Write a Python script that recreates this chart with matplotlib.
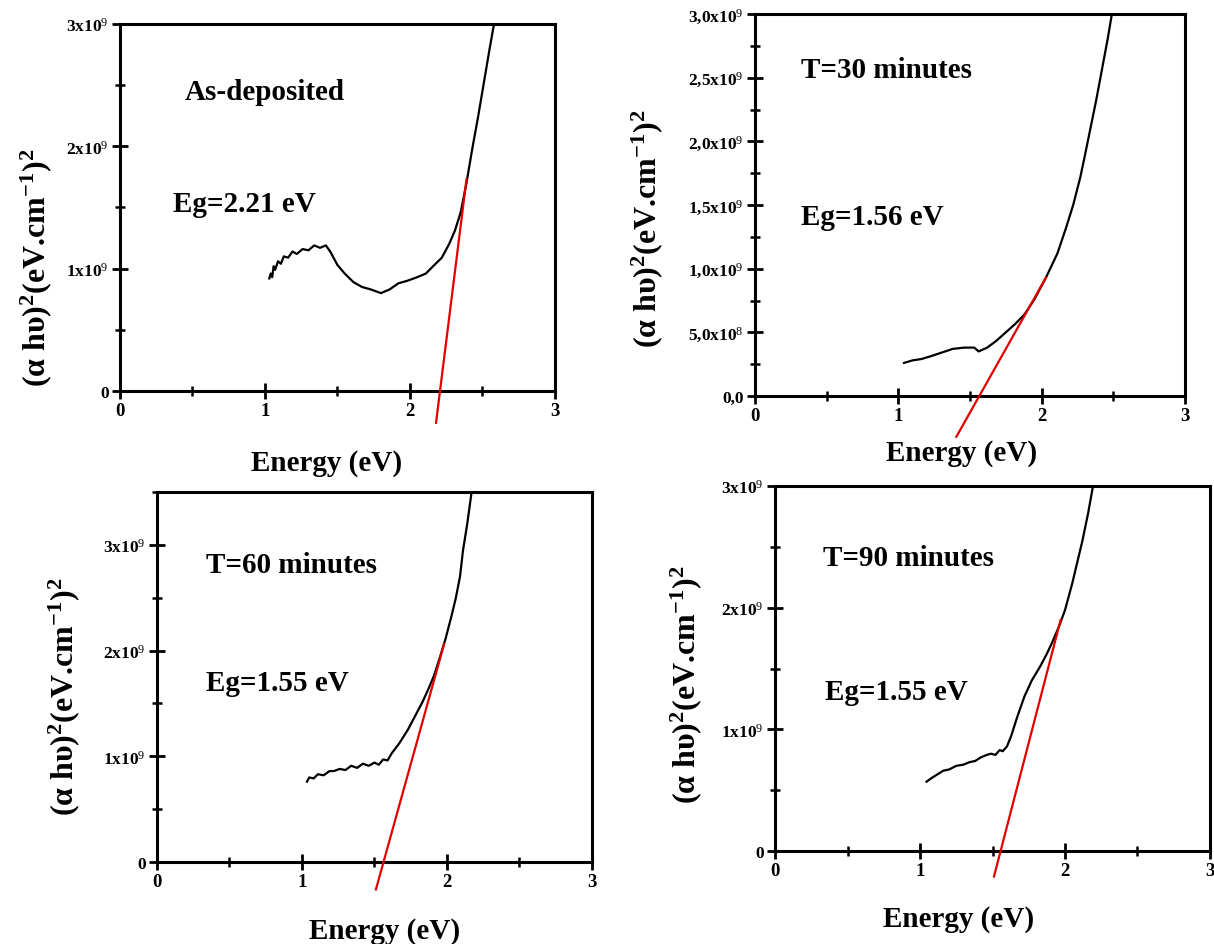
"""
Tauc plots (alpha*h*nu)^2 vs photon energy for four annealing times,
with the linear extrapolation giving the optical band gap.
"""

import matplotlib
matplotlib.use("Agg")
import matplotlib.pyplot as plt
from matplotlib.ticker import MultipleLocator


plt.rcParams["font.family"] = ["Liberation Serif", "DejaVu Serif"]
plt.rcParams["mathtext.fontset"] = "custom"
plt.rcParams["mathtext.rm"] = "Liberation Serif"
plt.rcParams["mathtext.bf"] = "Liberation Serif:bold"
plt.rcParams["mathtext.it"] = "Liberation Serif:italic"

# --- As-deposited ---
energy_asdep = [1.03, 1.04, 1.05, 1.06, 1.07, 1.09, 1.11, 1.13, 1.16, 1.19, 1.22,
                1.26, 1.30, 1.34, 1.38, 1.42, 1.45, 1.50, 1.55, 1.61, 1.67,
                1.73, 1.80, 1.86, 1.92, 1.98, 2.05, 2.11, 2.16, 2.22, 2.27,
                2.31, 2.35, 2.39, 2.43, 2.47, 2.51, 2.55, 2.58]
absorb_asdep = [0.92, 0.96, 0.93, 1.02, 0.99, 1.06, 1.04, 1.10, 1.09, 1.14, 1.12,
                1.16, 1.15, 1.19, 1.17, 1.19, 1.14, 1.03, 0.96, 0.89, 0.85,
                0.83, 0.80, 0.83, 0.88, 0.90, 0.93, 0.96, 1.02, 1.09, 1.20,
                1.31, 1.46, 1.70, 1.98, 2.24, 2.52, 2.80, 3.00]
fit_asdep_x = [2.18, 2.39]
fit_asdep_y = [-0.26, 1.73]

# --- T = 30 minutes ---
energy_30 = [1.04, 1.10, 1.16, 1.22, 1.30, 1.38, 1.46, 1.53, 1.56, 1.58, 1.62,
             1.68, 1.74, 1.81, 1.88, 1.95, 2.03, 2.11, 2.17, 2.22, 2.27,
             2.30, 2.34, 2.38, 2.43, 2.46, 2.49]
absorb_30 = [0.26, 0.28, 0.29, 0.31, 0.34, 0.37, 0.38, 0.38, 0.35, 0.36, 0.38,
             0.43, 0.49, 0.56, 0.64, 0.76, 0.93, 1.12, 1.32, 1.50, 1.72,
             1.88, 2.10, 2.32, 2.62, 2.80, 3.00]
fit_30_x = [1.405, 2.03]
fit_30_y = [-0.32, 0.93]

# --- T = 60 minutes ---
energy_60 = [1.035, 1.05, 1.08, 1.11, 1.15, 1.19, 1.22, 1.26, 1.30, 1.34, 1.38,
             1.42, 1.46, 1.50, 1.53, 1.56, 1.59, 1.62, 1.67, 1.73, 1.78,
             1.83, 1.87, 1.91, 1.95, 1.99, 2.03, 2.06, 2.09, 2.11, 2.14, 2.17]
absorb_60 = [0.76, 0.80, 0.79, 0.83, 0.82, 0.86, 0.86, 0.88, 0.87, 0.91, 0.89,
             0.93, 0.91, 0.94, 0.92, 0.97, 0.96, 1.03, 1.12, 1.25, 1.38,
             1.51, 1.63, 1.76, 1.93, 2.11, 2.32, 2.49, 2.70, 2.94, 3.20, 3.50]
fit_60_x = [1.51, 1.98]
fit_60_y = [-0.26, 2.06]

# --- T = 90 minutes ---
energy_90 = [1.045, 1.08, 1.12, 1.16, 1.20, 1.25, 1.30, 1.34, 1.38, 1.42, 1.46,
             1.49, 1.52, 1.55, 1.57, 1.60, 1.63, 1.67, 1.72, 1.77, 1.83,
             1.87, 1.91, 1.96, 2.00, 2.05, 2.09, 2.12, 2.16, 2.19]
absorb_90 = [0.57, 0.60, 0.63, 0.66, 0.67, 0.70, 0.71, 0.73, 0.74, 0.77, 0.79,
             0.80, 0.79, 0.83, 0.82, 0.86, 0.95, 1.10, 1.27, 1.40, 1.52,
             1.61, 1.71, 1.85, 1.98, 2.20, 2.40, 2.55, 2.78, 2.98]
fit_90_x = [1.51, 1.97]
fit_90_y = [-0.21, 1.90]

TICKS_X = [0, 1, 2, 3]
TICKS_Y_INT = [0, 1, 2, 3]
TICKLABELS_Y_INT = ["0", r"1x10$^9$", r"2x10$^9$", r"3x10$^9$"]
TICKS_Y_HALF = [0, 0.5, 1.0, 1.5, 2.0, 2.5, 3.0]
TICKLABELS_Y_HALF = ["0,0", r"5,0x10$^8$", r"1,0x10$^9$", r"1,5x10$^9$",
                     r"2,0x10$^9$", r"2,5x10$^9$", r"3,0x10$^9$"]

YLABEL = r"(α hυ)$^\mathbf{2}$(eV.cm$^{\mathbf{-1}}$)$^\mathbf{2}$"
XLABEL = "Energy (eV)"
TEXT_SIZE = 21


def draw_panel(rect, energy, absorb, fit_x, fit_y, y_max, y_ticks, y_labels,
               y_minor, title, title_xy, gap, gap_xy, xlabel_xy, ylabel_xy):
    ax = fig.add_axes(rect)
    ax.plot(energy, absorb, color="black", lw=1.6)
    # extrapolated linear fit, allowed to run below the x axis
    ax.plot(fit_x, fit_y, color="#e00000", lw=1.6, clip_on=False, zorder=3)

    ax.set_xlim(0, 3)
    ax.set_ylim(0, y_max)
    ax.set_xticks(TICKS_X, [str(t) for t in TICKS_X])
    ax.set_yticks(y_ticks, y_labels)
    ax.xaxis.set_minor_locator(MultipleLocator(0.5))
    ax.yaxis.set_minor_locator(MultipleLocator(y_minor))

    for spine in ax.spines.values():
        spine.set_linewidth(2.2)
    ax.tick_params(which="major", direction="inout", length=12, width=2,
                   pad=2)
    ax.tick_params(which="minor", direction="inout", length=7, width=1.8)
    ax.tick_params(axis="x", labelsize=13.5)
    ax.tick_params(axis="y", labelsize=12.5)
    ax.tick_params(top=False, right=False, which="both")
    for lbl in ax.get_xticklabels() + ax.get_yticklabels():
        lbl.set_fontweight("bold")

    ax.text(*title_xy, title, transform=ax.transAxes, ha="center",
            va="center", fontsize=TEXT_SIZE, fontweight="bold")
    ax.text(*gap_xy, gap, transform=ax.transAxes, ha="center",
            va="center", fontsize=TEXT_SIZE, fontweight="bold")

    ax.set_xlabel(XLABEL, fontsize=TEXT_SIZE, fontweight="bold")
    ax.xaxis.set_label_coords(*xlabel_xy)
    ax.set_ylabel(YLABEL, fontsize=23, fontweight="bold")
    ax.yaxis.set_label_coords(*ylabel_xy)
    return ax


fig = plt.figure(figsize=(12.14, 9.45), dpi=100)

draw_panel([0.0988, 0.5852, 0.3583, 0.3884], energy_asdep, absorb_asdep,
           fit_asdep_x, fit_asdep_y, 3.0, TICKS_Y_INT, TICKLABELS_Y_INT, 0.5,
           "As-deposited", (0.333, 0.817), "Eg=2.21 eV", (0.287, 0.510),
           (0.474, -0.158), (-0.152, 0.340))

draw_panel([0.6219, 0.5799, 0.3542, 0.4042], energy_30, absorb_30,
           fit_30_x, fit_30_y, 3.0, TICKS_Y_HALF, TICKLABELS_Y_HALF, 0.25,
           "T=30 minutes", (0.305, 0.856), "Eg=1.56 eV", (0.272, 0.471),
           (0.481, -0.113), (-0.210, 0.442))

draw_panel([0.1293, 0.0868, 0.3583, 0.3915], energy_60, absorb_60,
           fit_60_x, fit_60_y, 3.5, TICKS_Y_INT, TICKLABELS_Y_INT, 0.5,
           "T=60 minutes", (0.310, 0.805), "Eg=1.55 eV", (0.278, 0.486),
           (0.524, -0.149), (-0.172, 0.449))

draw_panel([0.6384, 0.0984, 0.3583, 0.3862], energy_90, absorb_90,
           fit_90_x, fit_90_y, 3.0, TICKS_Y_INT, TICKLABELS_Y_INT, 0.5,
           "T=90 minutes", (0.306, 0.805), "Eg=1.55 eV", (0.280, 0.438),
           (0.421, -0.148), (-0.163, 0.458))

fig.savefig("out.png", dpi=100)
